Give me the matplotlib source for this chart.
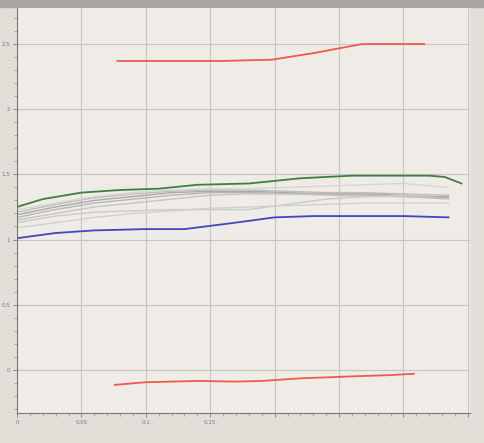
import numpy as np
import matplotlib
matplotlib.use("Agg")
from matplotlib import pyplot as plt
from matplotlib.ticker import MultipleLocator

# data (x in s, y in units of the axis)
red_top_x = [0.078, 0.12, 0.16, 0.198, 0.23, 0.268, 0.29, 0.316]
red_top_y = [2.37, 2.37, 2.37, 2.38, 2.43, 2.50, 2.50, 2.50]

red_bot_x = [0.076, 0.10, 0.14, 0.17, 0.19, 0.22, 0.26, 0.29, 0.308]
red_bot_y = [-0.115, -0.095, -0.085, -0.09, -0.085, -0.065, -0.05, -0.04, -0.03]

green_x = [0.0, 0.02, 0.05, 0.08, 0.11, 0.14, 0.18, 0.22, 0.26, 0.29, 0.32, 0.332, 0.345]
green_y = [1.25, 1.31, 1.36, 1.38, 1.39, 1.42, 1.43, 1.47, 1.49, 1.49, 1.49, 1.48, 1.43]

blue_x = [0.0, 0.03, 0.06, 0.10, 0.13, 0.17, 0.20, 0.23, 0.26, 0.30, 0.335]
blue_y = [1.01, 1.05, 1.07, 1.08, 1.08, 1.13, 1.17, 1.18, 1.18, 1.18, 1.17]

gray_x = [0.0, 0.03, 0.06, 0.09, 0.12, 0.15, 0.18, 0.21, 0.24, 0.27, 0.30, 0.335]
gray_sets = [
    [1.19, 1.25, 1.30, 1.33, 1.36, 1.37, 1.37, 1.36, 1.35, 1.35, 1.34, 1.33],
    [1.17, 1.23, 1.28, 1.31, 1.34, 1.36, 1.36, 1.35, 1.35, 1.34, 1.33, 1.32],
    [1.21, 1.27, 1.32, 1.35, 1.37, 1.38, 1.38, 1.37, 1.36, 1.36, 1.35, 1.34],
    [1.15, 1.20, 1.25, 1.28, 1.31, 1.34, 1.35, 1.35, 1.34, 1.33, 1.33, 1.31],
    [1.13, 1.18, 1.21, 1.22, 1.23, 1.23, 1.23, 1.27, 1.31, 1.33, 1.34, 1.34],
    [1.09, 1.13, 1.17, 1.20, 1.22, 1.24, 1.25, 1.26, 1.27, 1.28, 1.28, 1.28],
    [1.23, 1.28, 1.33, 1.36, 1.38, 1.39, 1.39, 1.40, 1.41, 1.42, 1.43, 1.40],
]
gray_cols = ['#a8a8a8', '#b5b5b5', '#bdbdbd', '#c4c4c4', '#cacaca', '#d0d0d0', '#d6d6d6']

x_ticks = [0, 0.05, 0.1, 0.15, 0.2, 0.25, 0.3, 0.35]
x_labels = ['0', '0.05', '0.1', '0.15', '', '', '', '']
y_ticks = [0, 0.5, 1, 1.5, 2, 2.5]
y_labels = ['0', '0.5', '1', '1.5', '2', '2.5']

fig = plt.figure(figsize=(4.85, 4.43), dpi=100)
fig.patch.set_facecolor('#e2ded8')
# dark strip along the top of the photo
fig.add_artist(plt.Rectangle((0, 0.984), 1, 0.016, transform=fig.transFigure,
                             color='#a9a7a4', zorder=0))
ax = fig.add_axes([0.035, 0.068, 0.935, 0.915])
ax.set_facecolor('#efece7')

for ys, c in zip(gray_sets, gray_cols):
    ax.plot(gray_x, ys, color=c, lw=1.0)
ax.plot(green_x, green_y, color='#3f7f45', lw=1.3)
ax.plot(blue_x, blue_y, color='#4444bb', lw=1.3)
ax.plot(red_top_x, red_top_y, color='#ee5a4e', lw=1.3)
ax.plot(red_bot_x, red_bot_y, color='#ee5a4e', lw=1.3)

ax.set_xlim(0, 0.352)
ax.set_ylim(-0.33, 2.78)
ax.set_xticks(x_ticks)
ax.set_xticklabels(x_labels)
ax.set_yticks(y_ticks)
ax.set_yticklabels(y_labels)
ax.xaxis.set_minor_locator(MultipleLocator(0.01))
ax.yaxis.set_minor_locator(MultipleLocator(0.1))
ax.tick_params(labelsize=4, colors='#777777', length=3, width=0.6, pad=2)
ax.tick_params(which='minor', length=2, width=0.5, colors='#888888')
ax.grid(True, color='#c9c6c1', lw=0.8)
for s in ['top', 'right']:
    ax.spines[s].set_visible(False)
for s in ['left', 'bottom']:
    ax.spines[s].set_color('#777777')
    ax.spines[s].set_linewidth(0.8)

fig.savefig('out.png', dpi=100, facecolor=fig.get_facecolor())
